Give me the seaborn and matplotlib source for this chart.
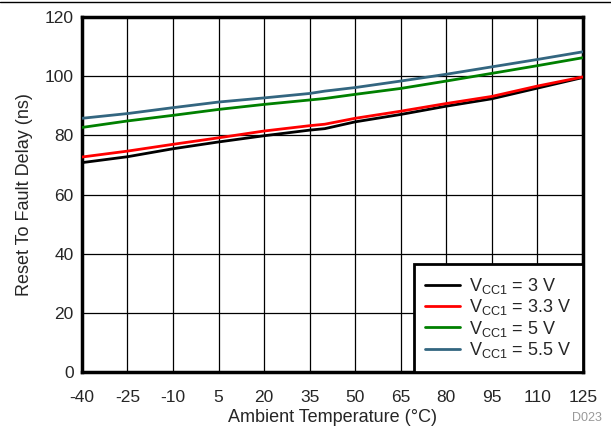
import pandas as pd
import seaborn as sns
import matplotlib.pyplot as plt
from matplotlib.lines import Line2D

# =========================
# Data
# =========================
temps = [-40, -25, -10, 5, 20, 35, 40, 50, 65, 80, 95, 110, 125]

delay_3v = [70.8, 72.8, 75.5, 77.8, 79.9, 81.8, 82.3, 84.6, 87.1, 89.9, 92.4, 96.0, 99.6]
delay_3v3 = [72.7, 74.7, 77.0, 79.2, 81.5, 83.3, 83.8, 85.8, 88.2, 90.8, 93.2, 96.7, 99.8]
delay_5v = [82.7, 84.9, 86.8, 88.8, 90.5, 92.0, 92.5, 93.9, 95.9, 98.4, 101.0, 103.6, 106.3]
delay_5v5 = [85.8, 87.4, 89.4, 91.3, 92.7, 94.2, 95.0, 96.2, 98.4, 100.7, 103.2, 105.7, 108.3]

labels = [r'V$_{\mathregular{CC1}}$ = 3 V', r'V$_{\mathregular{CC1}}$ = 3.3 V',
          r'V$_{\mathregular{CC1}}$ = 5 V', r'V$_{\mathregular{CC1}}$ = 5.5 V']
colors = ['#000000', '#ff0000', '#008000', '#336680']

x_ticks = [-40, -25, -10, 5, 20, 35, 50, 65, 80, 95, 110, 125]
y_ticks = [0, 20, 40, 60, 80, 100, 120]

# long-form table for seaborn
series = [delay_3v, delay_3v3, delay_5v, delay_5v5]
df = pd.concat([
    pd.DataFrame({'Temp': temps, 'Delay': vals, 'Supply': lab})
    for vals, lab in zip(series, labels)
], ignore_index=True)

# =========================
# Plot
# =========================
sns.set_style("white")
plt.rcParams['font.family'] = ['Liberation Sans', 'DejaVu Sans']
plt.rcParams['mathtext.fontset'] = 'custom'
plt.rcParams['mathtext.rm'] = 'Liberation Sans'
plt.rcParams['axes.unicode_minus'] = False

fig = plt.figure(figsize=(6.11, 4.30), dpi=100)
ax = fig.add_axes([0.134, 0.135, 0.820, 0.825])

sns.lineplot(data=df, x='Temp', y='Delay', hue='Supply',
             palette=dict(zip(labels, colors)), linewidth=2,
             estimator=None, ax=ax, zorder=3)

ax.set_xlim(-40, 125)
ax.set_ylim(0, 120)
ax.set_xticks(x_ticks)
ax.set_yticks(y_ticks)
ax.tick_params(axis='both', labelsize=12.5, length=0)
ax.tick_params(axis='x', pad=13)
ax.tick_params(axis='y', pad=6)
ax.grid(True, color='black', linewidth=0.9)
ax.set_axisbelow(True)

for s in ax.spines.values():
    s.set_color('black')
    s.set_linewidth(2.5)

ax.set_xlabel('Ambient Temperature (°C)', fontsize=13, labelpad=3)
ax.set_ylabel('Reset To Fault Delay (ns)', fontsize=13, labelpad=8)

leg = ax.legend(loc='lower right', fontsize=13, frameon=True, fancybox=False,
                borderaxespad=0, handlelength=1.9, handletextpad=0.5,
                labelspacing=0.08, borderpad=0.65)
leg.get_frame().set_edgecolor('black')
leg.get_frame().set_linewidth(2)
leg.get_frame().set_alpha(1)

fig.text(0.985, 0.015, 'D023', color='#999999', fontsize=9, ha='right', va='bottom')
fig.add_artist(Line2D([0, 1], [0.995, 0.995], color='black', linewidth=1))

fig.savefig('out.png', dpi=100)
